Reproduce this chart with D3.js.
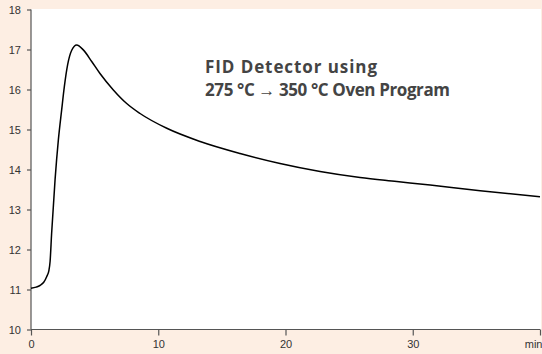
<!DOCTYPE html>
<html><head><meta charset="utf-8">
<script src="https://cdn.jsdelivr.net/npm/d3@7"></script>
<style>
html,body{margin:0;padding:0;background:#fdeee3;}
svg{display:block;}
</style></head>
<body>
<svg id="c" width="542" height="354"></svg>
<script>
const timeMin = [0, 0.4, 0.7, 1.0, 1.23, 1.41, 1.5, 1.62, 1.89, 2.15, 2.41, 2.62, 2.88, 3.2, 3.59, 4.11, 4.77, 5.42, 6.47, 7.52, 8.57, 10.67, 13.29, 16.43, 19.57, 22.72, 25.86, 28.75, 31.37, 35.3, 40];
const signal  = [11.03, 11.06, 11.1, 11.18, 11.32, 11.48, 11.7, 12.4, 13.74, 14.74, 15.49, 16.07, 16.62, 16.98, 17.11, 16.99, 16.7, 16.4, 15.99, 15.65, 15.4, 15.03, 14.7, 14.4, 14.15, 13.95, 13.8, 13.7, 13.61, 13.47, 13.32];
const yTicks = [10, 11, 12, 13, 14, 15, 16, 17, 18];
const xTicks = [0, 10, 20, 30, 40];
const xTickLabels = ["0", "10", "20", "30", "min"];
const titleLines = ["FID Detector using", "275 °C \u2192 350 °C Oven Program"];
const titleWidths = [172, 245];

const svg = d3.select("#c");
const L = 31, R = 540, T = 9.5, B = 329.5;
const x = d3.scaleLinear().domain([0, 40]).range([L, R]);
const y = d3.scaleLinear().domain([10, 18]).range([B, T]);

svg.append("rect").attr("x", L).attr("y", 9).attr("width", 541 - L).attr("height", B - 9).attr("fill", "#fff");

const font = "'Liberation Sans', Arial, sans-serif";
const yAxis = d3.axisLeft(y).tickValues(yTicks).tickSize(4).tickPadding(6).tickFormat(d3.format("d"));
const gy = svg.append("g").attr("transform", `translate(${L},0)`).call(yAxis);
const xAxis = d3.axisBottom(x).tickValues(xTicks).tickSize(6).tickPadding(5).tickFormat((d, i) => xTickLabels[i]);
const gx = svg.append("g").attr("transform", `translate(0,${B})`).call(xAxis);
[gx, gy].forEach(g => {
  g.select(".domain").attr("stroke", "#555").attr("stroke-width", 1.2);
  g.selectAll(".tick line").attr("stroke", "#555").attr("stroke-width", 1.2);
  g.selectAll(".tick text").attr("fill", "#333").style("font-family", font).style("font-size", "11px");
});
gx.select(".domain").attr("d", `M${L},0H${R}`);
gy.select(".domain").attr("d", `M0,${T}V${B}`);
gx.selectAll(".tick text").filter((d, i) => i === xTicks.length - 1).attr("text-anchor", "end").attr("x", 2);

const line = d3.line().x((d, i) => x(timeMin[i])).y(d => y(d)).curve(d3.curveMonotoneX);
svg.append("path").datum(signal).attr("d", line).attr("fill", "none").attr("stroke", "#000").attr("stroke-width", 1.5).attr("stroke-linejoin", "round");

svg.append("g").selectAll("text").data(titleLines).join("text")
  .attr("x", 205).attr("y", (d, i) => 72.5 + i * 23)
  .attr("textLength", (d, i) => titleWidths[i]).attr("lengthAdjust", "spacing")
  .attr("fill", "#444").style("font-family", "'Open Sans', sans-serif")
  .style("font-weight", 700).style("font-size", "17px").text(d => d);
</script>
</body></html>
